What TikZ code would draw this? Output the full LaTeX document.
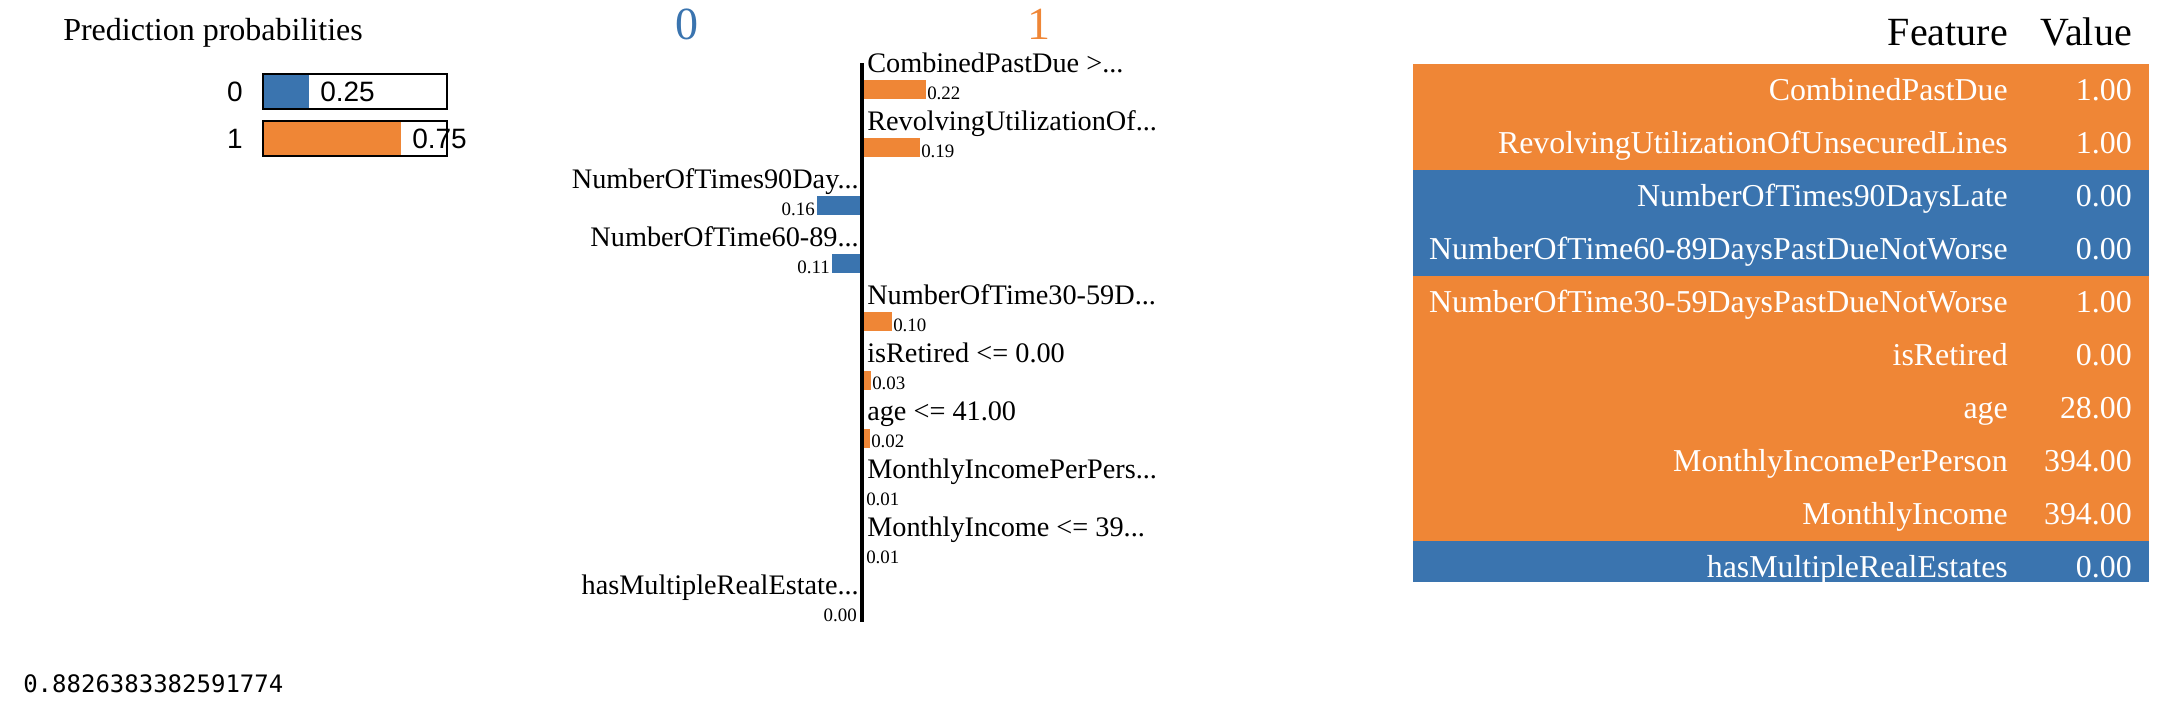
\documentclass[tikz,border=0pt]{standalone}
\usepackage{fontspec}
\setmainfont{Liberation Serif}
\setmonofont{DejaVu Sans Mono}
\newfontfamily\probfont{Liberation Sans}
\definecolor{limeblue}{RGB}{58,116,175}
\definecolor{limeorange}{RGB}{239,134,54}
\begin{document}
\begin{tikzpicture}[x=0.75pt,y=0.75pt,yscale=-1,xscale=1,
    lbl/.style={inner sep=0pt,font=\fontsize{21.2}{22}\selectfont},
    val/.style={inner sep=0pt,font=\fontsize{14.2}{15}\selectfont},
    prob/.style={inner sep=0pt,font=\probfont\fontsize{21}{22}\selectfont},
    cell/.style={inner sep=0pt,text=white,font=\fontsize{23.9}{25}\selectfont},
    head/.style={inner sep=0pt,font=\fontsize{30}{32}\selectfont},
    cls/.style={inner sep=0pt,font=\fontsize{34.5}{36}\selectfont}]
    \useasboundingbox (0,0) rectangle (2180,714);
    % Prediction probabilities
    \draw (63,40) node [anchor=base west][inner sep=0pt,font=\fontsize{24}{26}\selectfont] (probtitle) {Prediction probabilities};
    \fill [limeblue] (263,74) rectangle (309,109);
    \draw [line width=1pt] (263,74) rectangle (447,109);
    \draw (243,91.5) node [anchor=east][prob] (plab0) {0};
    \draw (320,91.5) node [anchor=west][prob] (pval0) {0.25};
    \fill [limeorange] (263,121) rectangle (401,156);
    \draw [line width=1pt] (263,121) rectangle (447,156);
    \draw (243,138.5) node [anchor=east][prob] (plab1) {1};
    \draw (412,138.5) node [anchor=west][prob] (pval1) {0.75};
    % Class headers
    \draw (687,39) node [anchor=base][cls,text=limeblue] (cls0) {0};
    \draw (1039,39) node [anchor=base][cls,text=limeorange] (cls1) {1};
    % Bars
    \fill [limeorange] (862,80) rectangle ++(64,19);
    \fill [limeorange] (862,138.1) rectangle ++(58,19);
    \fill [limeblue] (862,196.2) rectangle ++(-45,19);
    \fill [limeblue] (862,254.3) rectangle ++(-30,19);
    \fill [limeorange] (862,312.4) rectangle ++(30,19);
    \fill [limeorange] (862,370.5) rectangle ++(9,19);
    \fill [limeorange] (862,428.6) rectangle ++(8,19);
    % Axis
    \coordinate (axtop) at (862,63);
    \coordinate (axbot) at (862,622);
    \draw [line width=2.4pt] (axtop) -- (axbot);
    % Feature labels
    \draw (867,72) node [anchor=base west][lbl] (lab1) {CombinedPastDue >...};
    \draw (927,99) node [anchor=base west][val] (val1) {0.22};
    \draw (867,130.1) node [anchor=base west][lbl] (lab2) {RevolvingUtilizationOf...};
    \draw (921,157.1) node [anchor=base west][val] (val2) {0.19};
    \draw (859,188.2) node [anchor=base east][lbl] (lab3) {NumberOfTimes90Day...};
    \draw (815,215.2) node [anchor=base east][val] (val3) {0.16};
    \draw (859,246.3) node [anchor=base east][lbl] (lab4) {NumberOfTime60-89...};
    \draw (830,273.3) node [anchor=base east][val] (val4) {0.11};
    \draw (867,304.4) node [anchor=base west][lbl] (lab5) {NumberOfTime30-59D...};
    \draw (893,331.4) node [anchor=base west][val] (val5) {0.10};
    \draw (867,362.5) node [anchor=base west][lbl] (lab6) {isRetired <= 0.00};
    \draw (872,389.5) node [anchor=base west][val] (val6) {0.03};
    \draw (867,420.6) node [anchor=base west][lbl] (lab7) {age <= 41.00};
    \draw (871,447.6) node [anchor=base west][val] (val7) {0.02};
    \draw (867,478.7) node [anchor=base west][lbl] (lab8) {MonthlyIncomePerPers...};
    \draw (866,505.7) node [anchor=base west][val] (val8) {0.01};
    \draw (867,536.8) node [anchor=base west][lbl] (lab9) {MonthlyIncome <= 39...};
    \draw (866,563.8) node [anchor=base west][val] (val9) {0.01};
    \draw (859,594.9) node [anchor=base east][lbl] (lab10) {hasMultipleRealEstate...};
    \draw (857,621.9) node [anchor=base east][val] (val10) {0.00};
    % Feature table
    \draw (2008,45) node [anchor=base east][head] (hfeat) {Feature};
    \draw (2132,45) node [anchor=base east][head] (hval) {Value};
    \fill [limeorange] (1413,64) rectangle (2149,170);
    \fill [limeblue] (1413,170) rectangle (2149,276);
    \fill [limeorange] (1413,276) rectangle (2149,541);
    \fill [limeblue] (1413,541) rectangle (2149,582);
    \draw (2008,100) node [anchor=base east][cell] (fname1) {CombinedPastDue};
    \draw (2132,100) node [anchor=base east][cell] (fval1) {1.00};
    \draw (2008,153) node [anchor=base east][cell] (fname2) {RevolvingUtilizationOfUnsecuredLines};
    \draw (2132,153) node [anchor=base east][cell] (fval2) {1.00};
    \draw (2008,206) node [anchor=base east][cell] (fname3) {NumberOfTimes90DaysLate};
    \draw (2132,206) node [anchor=base east][cell] (fval3) {0.00};
    \draw (2008,259) node [anchor=base east][cell] (fname4) {NumberOfTime60-89DaysPastDueNotWorse};
    \draw (2132,259) node [anchor=base east][cell] (fval4) {0.00};
    \draw (2008,312) node [anchor=base east][cell] (fname5) {NumberOfTime30-59DaysPastDueNotWorse};
    \draw (2132,312) node [anchor=base east][cell] (fval5) {1.00};
    \draw (2008,365) node [anchor=base east][cell] (fname6) {isRetired};
    \draw (2132,365) node [anchor=base east][cell] (fval6) {0.00};
    \draw (2008,418) node [anchor=base east][cell] (fname7) {age};
    \draw (2132,418) node [anchor=base east][cell] (fval7) {28.00};
    \draw (2008,471) node [anchor=base east][cell] (fname8) {MonthlyIncomePerPerson};
    \draw (2132,471) node [anchor=base east][cell] (fval8) {394.00};
    \draw (2008,524) node [anchor=base east][cell] (fname9) {MonthlyIncome};
    \draw (2132,524) node [anchor=base east][cell] (fval9) {394.00};
    \draw (2008,577) node [anchor=base east][cell] (fname10) {hasMultipleRealEstates};
    \draw (2132,577) node [anchor=base east][cell] (fval10) {0.00};
    % Score
    \draw (23,692) node [anchor=base west][inner sep=0pt,font=\ttfamily\fontsize{18}{20}\selectfont] (score) {0.8826383382591774};
\end{tikzpicture}
\end{document}
